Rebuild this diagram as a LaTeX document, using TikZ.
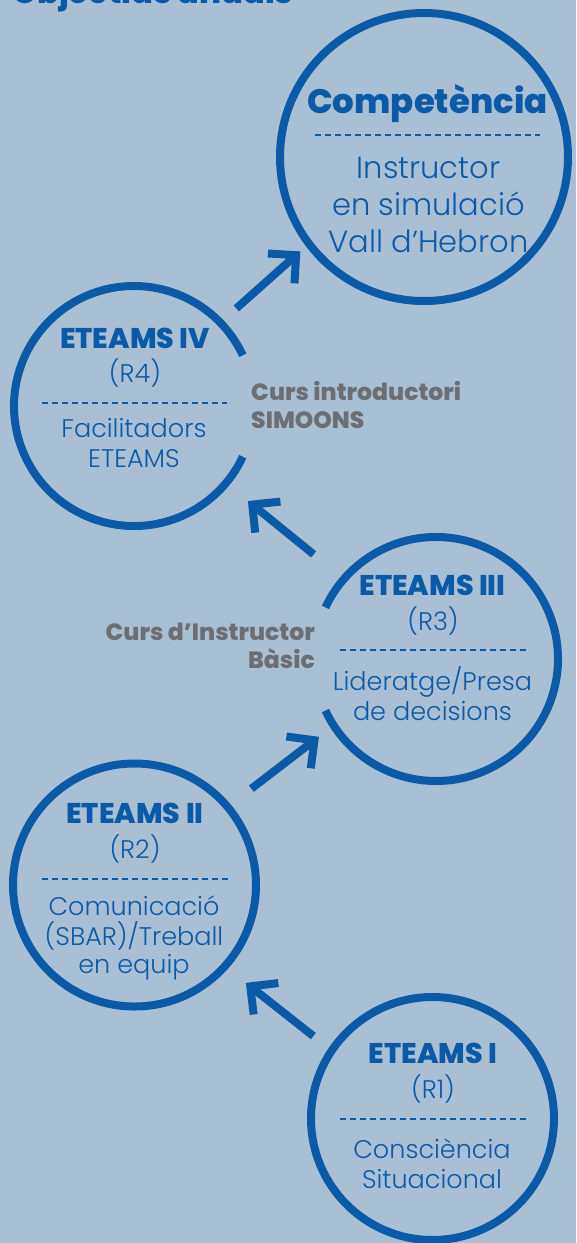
\documentclass[tikz,border=0pt]{standalone}
\usepackage{fontspec}
\setmainfont{Poppins}
\newfontfamily\lightfont{Poppins Light}
\newfontfamily\heavyfont{Poppins ExtraBold}
\usetikzlibrary{arrows.meta,calc}
\definecolor{bg}{HTML}{A9BFD4}
\definecolor{eblue}{HTML}{0A5AA8}
\definecolor{egrey}{HTML}{6D6E71}
\tikzset{
  ring/.style={draw=eblue, line width=8pt, circle, inner sep=0pt, outer sep=0pt},
  circ/.style={circle, inner sep=0pt, outer sep=0pt},
  ringline/.style={draw=eblue, line width=8pt},
  flow/.style={draw=eblue, line width=8pt, -{Straight Barb[length=20pt,width=40pt]}},
  sep/.style={draw=eblue, line width=1.3pt, dash pattern=on 6pt off 4pt},
  title/.style={text=eblue, font=\fontsize{32}{36}\selectfont\heavyfont, anchor=base west, inner sep=0pt},
  comp/.style={text=eblue, font=\fontsize{34}{40}\selectfont\heavyfont, anchor=base, inner sep=0pt},
  head/.style={text=eblue, font=\fontsize{28.5}{32}\selectfont\heavyfont, anchor=base, inner sep=0pt},
  bodybig/.style={text=eblue, font=\fontsize{30.5}{36}\selectfont\lightfont, anchor=base, inner sep=0pt},
  body/.style={text=eblue, font=\fontsize{25.5}{30}\selectfont\lightfont, anchor=base, inner sep=0pt},
  note/.style={text=egrey, font=\fontsize{23.5}{28}\selectfont\heavyfont, inner sep=0pt},
}
\begin{document}
\begin{tikzpicture}[x=1pt,y=-1pt]
\useasboundingbox (0,0) rectangle (576,1243);
\fill[bg] (0,0) rectangle (576,1243);
\clip (0,0) rectangle (576,1243);

% title (cut off at top)
\node[title] (title) at (12,3) {Objectius anuals};

% circles
\node[ring, minimum size=288pt] (c0) at (424,157) {};
\node[circ, minimum size=240pt] (c4) at (134,406) {};
\node[circ, minimum size=244pt] (c3) at (436,659) {};
\node[ring, minimum size=243pt] (c2) at (134.5,885) {};
\node[ring, minimum size=243pt] (c1) at (432.5,1118.5) {};
\draw[ringline] (c4.25) arc[start angle=25, end angle=335, radius=120pt];
\draw[ringline] (c3.205) arc[start angle=205, end angle=515, radius=122pt];

% Competencia
\node[comp] (t0) at (427.5,113) {Competència};
\draw[sep] (315,135) -- (540,135);
\node[bodybig] (b0a) at (428.5,178) {Instructor};
\node[bodybig] (b0b) at (428.5,215) {en simulació};
\node[bodybig] (b0c) at (428.5,252) {Vall d’Hebron};

% ETEAMS IV
\node[head] (t4) at (135,348) {ETEAMS IV};
\node[body] (r4) at (135,382) {(R4)};
\draw[sep] (42,403) -- (227,403);
\node[body] (b4a) at (134,437) {Facilitadors};
\node[body] (b4b) at (134,467) {ETEAMS};

\node[note, anchor=base west] (n4a) at (251,400) {Curs introductori};
\node[note, anchor=base west] (n4b) at (251,428) {SIMOONS};

% ETEAMS III
\node[head] (t3) at (432.5,595) {ETEAMS III};
\node[body] (r3) at (433,630) {(R3)};
\draw[sep] (340,650) -- (527,650);
\node[body] (b3a) at (432.5,690) {Lideratge/Presa};
\node[body] (b3b) at (432.5,720) {de decisions};

\node[note, anchor=base east] (n3a) at (315,640) {Curs d’Instructor};
\node[note, anchor=base east] (n3b) at (315,668) {Bàsic};

% ETEAMS II
\node[head] (t2) at (135,823) {ETEAMS II};
\node[body] (r2) at (135,858) {(R2)};
\draw[sep] (42,879) -- (228,879);
\node[body] (b2a) at (134,915) {Comunicació};
\node[body] (b2b) at (134,945) {(SBAR)/Treball};
\node[body] (b2c) at (134,973) {en equip};

% ETEAMS I
\node[head] (t1) at (433,1063) {ETEAMS I};
\node[body] (r1) at (433,1098) {(R1)};
\draw[sep] (340,1119) -- (527,1119);
\node[body] (b1a) at (432,1158) {Consciència};
\node[body] (b1b) at (432,1188) {Situacional};

% arrows
\draw[flow, shorten <=23.4pt, shorten >=26.8pt] (c1.146.3) -- (c2.-42.4);
\draw[flow, shorten <=30pt, shorten >=18.6pt] (c2.40.3) -- (c3.213.7);
\draw[flow, shorten <=39pt, shorten >=28.3pt] (c3.139.8) -- (c4.-40.3);
\draw[flow, shorten <=21.4pt, shorten >=11.6pt] (c4.44.4) -- (c0.217.2);
\end{tikzpicture}
\end{document}
